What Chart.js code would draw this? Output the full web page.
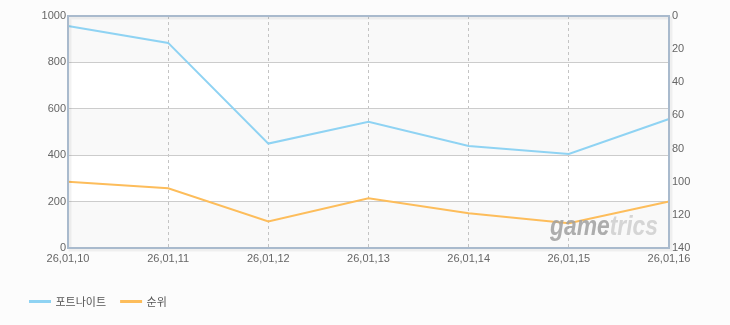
<!DOCTYPE html>
<html>
<head>
<meta charset="utf-8">
<script src="https://cdn.jsdelivr.net/npm/chart.js@4.4.1/dist/chart.umd.min.js"></script>
<style>
  html, body { margin: 0; padding: 0; background: #fcfcfc; }
  #wrap { width: 730px; height: 325px; position: relative; }
</style>
</head>
<body>
<div id="wrap"><canvas id="chart" width="730" height="325"></canvas></div>
<script>
// dates on the x axis
const labels = ['26,01,10', '26,01,11', '26,01,12', '26,01,13', '26,01,14', '26,01,15', '26,01,16'];
// left axis series
const fortnite = [957, 884, 450, 544, 440, 405, 556];
// right axis series (rank, reversed)
const rank = [100, 104, 124, 110, 119, 125, 112];

const leftTicks = [0, 200, 400, 600, 800, 1000];
const rightTicks = [0, 20, 40, 60, 80, 100, 120, 140];

// plot background bands, frame, watermark
const decor = {
  id: 'decor',
  beforeDraw(chart) {
    const ctx = chart.ctx, a = chart.chartArea, y = chart.scales.y;
    ctx.save();
    ctx.fillStyle = '#ffffff';
    ctx.fillRect(a.left, a.top, a.right - a.left, a.bottom - a.top);
    for (let i = 0; i < leftTicks.length - 1; i++) {
      if ((leftTicks.length - 2 - i) % 2 === 0) {
        const y0 = y.getPixelForValue(leftTicks[i + 1]);
        const y1 = y.getPixelForValue(leftTicks[i]);
        ctx.fillStyle = '#f9f9f9';
        ctx.fillRect(a.left, y0, a.right - a.left, y1 - y0);
      }
    }
    ctx.restore();
  },
  afterDatasetsDraw(chart) {
    const ctx = chart.ctx, a = chart.chartArea;
    ctx.save();
    // watermark
    ctx.font = 'italic bold 27px "Liberation Sans", sans-serif';
    ctx.textBaseline = 'alphabetic';
    const wg = ctx.measureText('game').width, wt = ctx.measureText('trics').width;
    const sx = 108 / (wg + wt);
    ctx.translate(a.right - 119, a.bottom - 13);
    ctx.scale(sx, 1);
    ctx.fillStyle = 'rgba(160,160,160,0.85)';
    ctx.fillText('game', 0, 0);
    ctx.fillStyle = 'rgba(200,200,200,0.75)';
    ctx.fillText('trics', wg, 0);
    ctx.setTransform(1, 0, 0, 1, 0, 0);
    // frame
    ctx.strokeStyle = 'rgba(0,0,0,0.05)';
    ctx.lineWidth = 3;
    ctx.strokeRect(a.left + 2, a.top + 2, a.right - a.left, a.bottom - a.top);
    ctx.strokeStyle = '#a9bacd';
    ctx.lineWidth = 2;
    ctx.strokeRect(a.left, a.top, a.right - a.left, a.bottom - a.top);
    ctx.restore();
  }
};

const tickFont = { family: '"Liberation Sans", Arial, sans-serif', size: 11 };

new Chart(document.getElementById('chart'), {
  type: 'line',
  data: {
    labels: labels,
    datasets: [
      { label: '포트나이트', data: fortnite, yAxisID: 'y', borderColor: '#8fd3f3', backgroundColor: '#8fd3f3',
        borderWidth: 2, pointRadius: 0, tension: 0 },
      { label: '순위', data: rank, yAxisID: 'y1', borderColor: '#fdbd5b', backgroundColor: '#fdbd5b',
        borderWidth: 2, pointRadius: 0, tension: 0 }
    ]
  },
  options: {
    responsive: false,
    animation: false,
    devicePixelRatio: 1,
    layout: { padding: { top: 16, right: 0, left: 15, bottom: 8 } },
    plugins: {
      legend: {
        position: 'bottom',
        align: 'start',
        labels: {
          boxWidth: 20, boxHeight: 1, padding: 15,
          color: '#555', font: { family: '"Noto Sans CJK KR", sans-serif', size: 11 }
        }
      },
      tooltip: { enabled: false }
    },
    scales: {
      x: {
        offset: false,
        grid: { color: '#c4c4c4', drawTicks: false },
        border: { display: false, dash: [3, 3] },
        ticks: { color: '#666', padding: 4, maxRotation: 0, autoSkip: false, font: tickFont },
        afterFit(s) { s.height = 33; }
      },
      y: {
        position: 'left', min: 0, max: 1000,
        afterBuildTicks(s) { s.ticks = leftTicks.map(v => ({ value: v })); },
        grid: { color: '#cccccc', drawTicks: false },
        border: { display: false },
        ticks: { color: '#666', padding: 2, font: tickFont, callback: v => String(v) },
        afterFit(s) { s.width = 53; }
      },
      y1: {
        position: 'right', min: 0, max: 140, reverse: true,
        afterBuildTicks(s) { s.ticks = rightTicks.map(v => ({ value: v })); },
        grid: { display: false, drawTicks: false },
        border: { display: false },
        ticks: { color: '#666', padding: 3, font: tickFont, callback: v => String(v) },
        afterFit(s) { s.width = 61; }
      }
    }
  },
  plugins: [decor]
});
</script>
</body>
</html>
